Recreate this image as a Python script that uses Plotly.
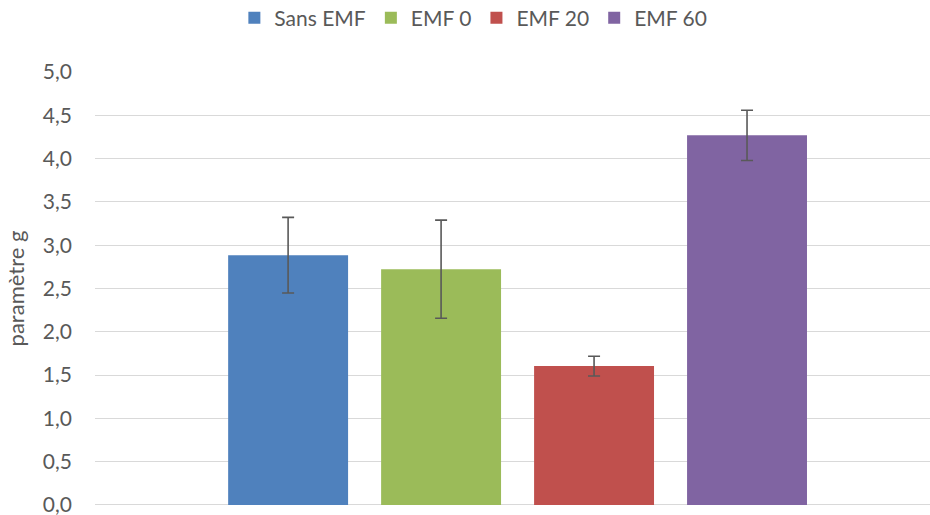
import plotly.graph_objects as go

series = ["Sans EMF", "EMF 0", "EMF 20", "EMF 60"]
values = [2.885, 2.723, 1.604, 4.269]
errors = [0.437, 0.567, 0.114, 0.290]
colors = ["#4F81BD", "#9BBB59", "#C0504D", "#8064A2"]
category = [""]
y_ticks = [0.0, 0.5, 1.0, 1.5, 2.0, 2.5, 3.0, 3.5, 4.0, 4.5, 5.0]

fig = go.Figure()
for name, v, e, c in zip(series, values, errors, colors):
    fig.add_trace(go.Bar(
        name=name, x=category, y=[v], marker_color=c, marker_line_width=0,
        error_y=dict(type="data", array=[e], visible=True, color="#595959",
                     thickness=1.6, width=6),
    ))

font = "Lato, 'Open Sans', sans-serif"
fig.update_layout(
    width=930, height=515,
    barmode="group", bargap=0.276, bargroupgap=0.216,
    separators=", ",
    plot_bgcolor="white", paper_bgcolor="white",
    margin=dict(l=95, r=0, t=72, b=10),
    font=dict(family=font, size=21, color="#595959"),
    legend=dict(orientation="h", xref="container", x=0.509, xanchor="center",
                yref="container", y=0.965, yanchor="middle",
                font=dict(size=21, color="#595959"),
                itemwidth=30, traceorder="normal"),
    xaxis=dict(type="category", range=[-0.5, 0.488], showticklabels=False,
               showgrid=False, zeroline=False, showline=False),
    yaxis=dict(range=[-0.001, 5.001], tickvals=y_ticks, tickformat=".1f",
               showgrid=True, gridcolor="#D9D9D9", gridwidth=1.3,
               zeroline=True, zerolinecolor="#D9D9D9", zerolinewidth=1.3,
               showline=False, ticklabelstandoff=22, ticklabeloverflow="allow",
               title=dict(text="paramètre g", font=dict(size=22, color="#595959"),
                          standoff=12)),
)
fig.write_html("out.html", config={"displayModeBar": False},
               post_script="document.body.style.margin='0';")
